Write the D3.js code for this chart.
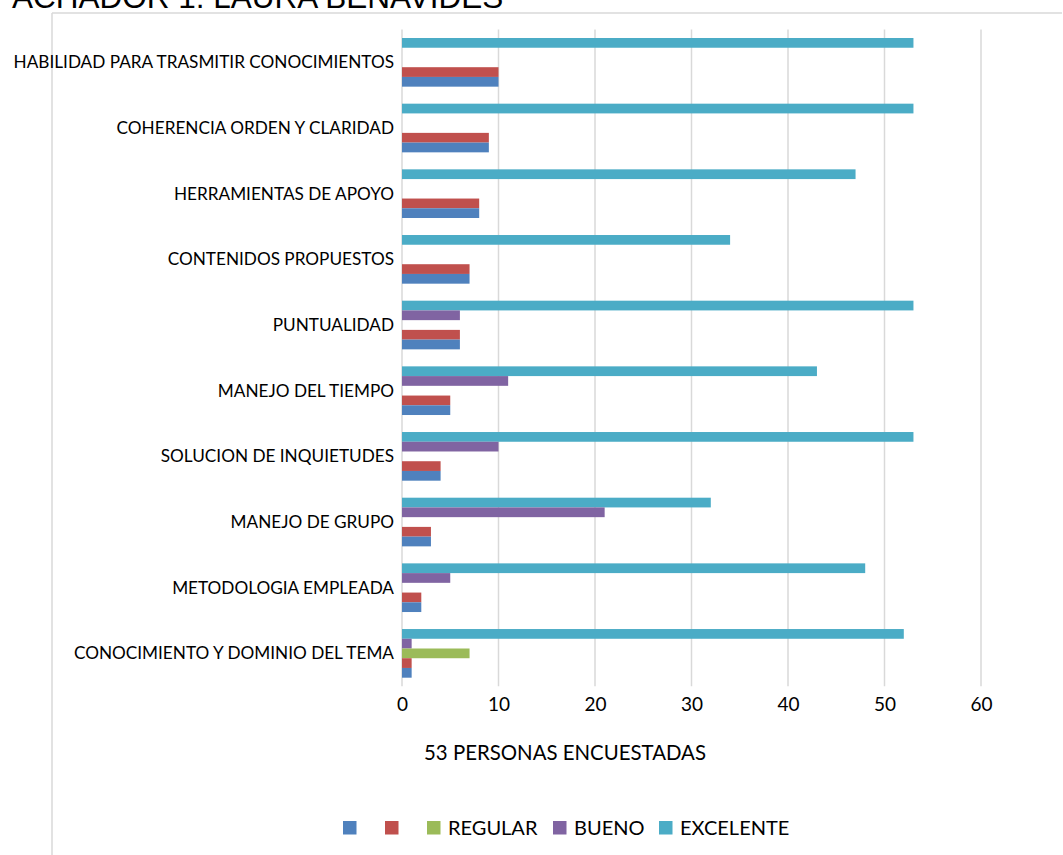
<!DOCTYPE html>
<html>
<head>
<meta charset="utf-8">
<script src="https://cdn.jsdelivr.net/npm/d3@7/dist/d3.min.js"></script>
<style>
  html, body { margin: 0; padding: 0; background: #fff; }
  svg { display: block; }
</style>
</head>
<body>
<svg id="chart" width="1063" height="855"></svg>
<script>
// ---- Data ----
const title = "ACHADOR 1: LAURA BENAVIDES";
const axisTitle = "53 PERSONAS ENCUESTADAS";
const categories = [
  "HABILIDAD PARA TRASMITIR CONOCIMIENTOS",
  "COHERENCIA ORDEN Y CLARIDAD",
  "HERRAMIENTAS DE APOYO",
  "CONTENIDOS PROPUESTOS",
  "PUNTUALIDAD",
  "MANEJO DEL TIEMPO",
  "SOLUCION DE INQUIETUDES",
  "MANEJO DE GRUPO",
  "METODOLOGIA EMPLEADA",
  "CONOCIMIENTO Y DOMINIO DEL TEMA"
];
const seriesNames = ["", " ", "REGULAR", "BUENO", "EXCELENTE"];
const seriesColors = ["#4f81bd", "#c0504d", "#9bbb59", "#8064a2", "#4bacc6"];
const serie1 = [10, 9, 8, 7, 6, 5, 4, 3, 2, 1];
const serie2 = [10, 9, 8, 7, 6, 5, 4, 3, 2, 1];
const regular = [0, 0, 0, 0, 0, 0, 0, 0, 0, 7];
const bueno = [0, 0, 0, 0, 6, 11, 10, 21, 5, 1];
const excelente = [53, 53, 47, 34, 53, 43, 53, 32, 48, 52];
const xTicks = [0, 10, 20, 30, 40, 50, 60];

const seriesValues = [serie1, serie2, regular, bueno, excelente];

// ---- Layout ----
const svg = d3.select("#chart");
const font = "Lato, 'Open Sans', sans-serif";
const gridColor = "#d9d9d9";

const x = d3.scaleLinear().domain([0, 60]).range([402, 981]);
const y = d3.scaleBand().domain(categories).range([29.5, 686.2])
  .paddingInner(0.259).paddingOuter(0.1295);
// series order top->bottom inside group: EXCELENTE, BUENO, REGULAR, s2, s1
const seriesIdx = [4, 3, 2, 1, 0];
const ys = d3.scaleBand().domain(seriesIdx).range([0, y.bandwidth()]);

// chart border (top & left)
svg.append("line").attr("x1", 52).attr("x2", 1062).attr("y1", 13).attr("y2", 13)
  .attr("stroke", gridColor).attr("stroke-width", 1.5);
svg.append("line").attr("x1", 52).attr("x2", 52).attr("y1", 13).attr("y2", 855)
  .attr("stroke", gridColor).attr("stroke-width", 1.5);

// title
svg.append("text").attr("x", 12).attr("y", 8)
  .attr("font-family", "'Liberation Sans', Arial, sans-serif")
  .attr("font-size", 31.5).attr("fill", "#000").text(title);

// gridlines
svg.append("g").selectAll("line").data(xTicks).join("line")
  .attr("x1", d => x(d)).attr("x2", d => x(d))
  .attr("y1", y.range()[0]).attr("y2", y.range()[1])
  .attr("stroke", gridColor).attr("stroke-width", 1.5);

// bars
const groups = svg.append("g").selectAll("g").data(categories).join("g")
  .attr("transform", d => `translate(0,${y(d)})`);
groups.each(function(cat, ci) {
  const g = d3.select(this);
  seriesIdx.forEach(si => {
    const v = seriesValues[si][ci];
    if (v > 0) {
      g.append("rect")
        .attr("x", x(0)).attr("y", ys(si))
        .attr("width", x(v) - x(0)).attr("height", ys.bandwidth())
        .attr("fill", seriesColors[si]);
    }
  });
});

// x axis
const xAxis = d3.axisBottom(x).tickValues(xTicks).tickSize(0).tickPadding(0);
const gx = svg.append("g").attr("transform", `translate(0,${y.range()[1]})`).call(xAxis);
gx.select(".domain").remove();
gx.selectAll("text").attr("font-family", font).attr("font-size", 19)
  .attr("fill", "#000").attr("dy", null).attr("y", 25);

// y axis labels
const yAxis = d3.axisLeft(y).tickSize(0).tickPadding(8);
const gy = svg.append("g").attr("transform", `translate(${x(0)},0)`).call(yAxis);
gy.select(".domain").remove();
gy.selectAll("text").attr("font-family", font).attr("font-size", 17.2)
  .attr("fill", "#000").attr("dy", "0.34em");

// axis title
svg.append("text").attr("x", 565).attr("y", 760).attr("text-anchor", "middle")
  .attr("font-family", font).attr("font-size", 20.4).attr("fill", "#000")
  .text(axisTitle);

// legend
const legendX = [343, 385, 427, 553, 659];
const leg = svg.append("g").selectAll("g").data(seriesNames).join("g")
  .attr("transform", (d, i) => `translate(${legendX[i]},821)`);
leg.append("rect").attr("width", 13.5).attr("height", 13.5)
  .attr("fill", (d, i) => seriesColors[i]);
leg.append("text").attr("x", 21).attr("y", 13.5)
  .attr("font-family", font).attr("font-size", 20).attr("fill", "#000")
  .text(d => d);
</script>
</body>
</html>
